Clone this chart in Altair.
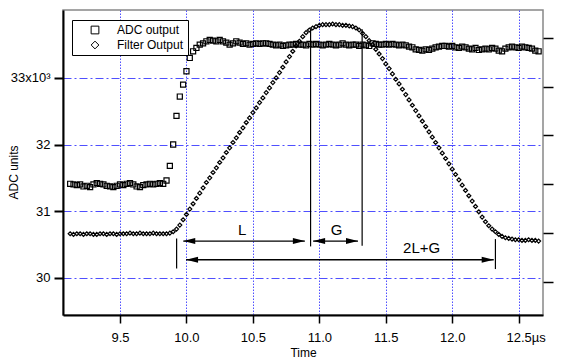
import altair as alt
import pandas as pd

# sample grid (ADC sampling)
T0 = 9.125
DT = 0.025

adc_output = [
    31.41, 31.40, 31.39, 31.40, 31.37, 31.38, 31.36, 31.40, 31.42, 31.41,
    31.40, 31.38, 31.37, 31.36, 31.38, 31.40, 31.39, 31.41, 31.42, 31.40,
    31.37, 31.36, 31.39, 31.40, 31.41, 31.40, 31.41, 31.42, 31.41, 31.46,
    31.68, 32.00, 32.43, 32.72, 32.90, 33.10, 33.30, 33.40, 33.45, 33.50,
    33.52, 33.55, 33.57, 33.56, 33.55, 33.57, 33.55, 33.53, 33.50, 33.52,
    33.55, 33.53, 33.51, 33.52, 33.50, 33.51, 33.52, 33.51, 33.52, 33.52,
    33.51, 33.50, 33.49, 33.50, 33.48, 33.49, 33.50, 33.50, 33.51, 33.50,
    33.50, 33.49, 33.51, 33.50, 33.51, 33.50, 33.49, 33.50, 33.51, 33.50,
    33.49, 33.50, 33.52, 33.50, 33.49, 33.50, 33.50, 33.48, 33.50, 33.49,
    33.48, 33.52, 33.51, 33.50, 33.50, 33.51, 33.50, 33.51, 33.50, 33.49,
    33.50, 33.49, 33.47, 33.46, 33.43, 33.42, 33.41, 33.43, 33.42, 33.44,
    33.46, 33.47, 33.48, 33.48, 33.47, 33.48, 33.46, 33.45, 33.47, 33.46,
    33.44, 33.43, 33.45, 33.42, 33.43, 33.44, 33.43, 33.45, 33.44, 33.41,
    33.40, 33.44, 33.46, 33.47, 33.46, 33.45, 33.47, 33.46, 33.45, 33.44,
    33.41, 33.40,
]

filter_output = [
    30.66, 30.65, 30.66, 30.66, 30.65, 30.66, 30.66, 30.65, 30.65, 30.66,
    30.66, 30.65, 30.66, 30.66, 30.65, 30.66, 30.66, 30.66, 30.67, 30.66,
    30.66, 30.67, 30.66, 30.66, 30.66, 30.67, 30.66, 30.66, 30.66, 30.66,
    30.67, 30.69, 30.73, 30.79, 30.87, 30.95, 31.03, 31.11, 31.19, 31.27,
    31.35, 31.43, 31.50, 31.58, 31.65, 31.73, 31.80, 31.88, 31.95, 32.03,
    32.10, 32.18, 32.25, 32.33, 32.40, 32.48, 32.55, 32.63, 32.70, 32.78,
    32.85, 32.93, 33.00, 33.08, 33.16, 33.24, 33.32, 33.40, 33.48, 33.55,
    33.62, 33.68, 33.72, 33.75, 33.77, 33.79, 33.80, 33.80, 33.80, 33.81,
    33.80, 33.80, 33.79, 33.79, 33.78, 33.77, 33.75, 33.72, 33.67, 33.62,
    33.56, 33.50, 33.43, 33.36, 33.29, 33.21, 33.14, 33.06, 32.98, 32.91,
    32.83, 32.75, 32.67, 32.59, 32.51, 32.43, 32.35, 32.27, 32.19, 32.11,
    32.03, 31.95, 31.87, 31.79, 31.71, 31.63, 31.55, 31.47, 31.39, 31.31,
    31.23, 31.15, 31.07, 30.99, 30.91, 30.84, 30.78, 30.73, 30.69, 30.65,
    30.62, 30.60, 30.59, 30.58, 30.57, 30.57, 30.56, 30.56, 30.57, 30.56,
    30.56, 30.55,
]

series_names = ["ADC output", "Filter Output"]
x_ticks = [9.5, 10.0, 10.5, 11.0, 11.5, 12.0, 12.5]
y_ticks = [30, 31, 32, 33]
right_ticks = [29.94, 30.672, 31.404, 32.137, 32.869, 33.601]

# annotation: arrows (L, G, 2L+G)
arrow_x_start = [9.976, 10.953, 9.997]
arrow_x_end = [10.891, 11.291, 12.312]
arrow_y = [30.55, 30.55, 30.27]
# vertical markers
vline_x = [9.926, 10.934, 11.322, 12.325]
vline_y_top = [30.59, 33.73, 33.73, 30.58]
vline_y_bottom = [30.14, 30.47, 30.48, 30.13]
# labels
label_text = ["L", "G", "2L+G"]
label_x = [10.42, 11.13, 11.77]
label_y = [30.72, 30.72, 30.44]

n = len(adc_output)
times = [round(T0 + DT * i, 4) for i in range(n)]

df = pd.DataFrame({
    "t": times + times,
    "v": adc_output + filter_output,
    "series": [series_names[0]] * n + [series_names[1]] * n,
})
arrows = pd.DataFrame({"x1": arrow_x_start, "x2": arrow_x_end, "y": arrow_y})
vlines = pd.DataFrame({"x": vline_x, "y1": vline_y_top, "y2": vline_y_bottom})
labels = pd.DataFrame({"x": label_x, "y": label_y, "text": label_text})

FONT = "Liberation Sans"
GRID = "#4f4fff"
xscale = alt.Scale(domain=[9.071, 12.683], nice=False, zero=False)
yscale = alt.Scale(domain=[29.44, 34.02], nice=False, zero=False)

xaxis = alt.Axis(
    values=x_ticks,
    labelExpr="datum.value == 12.5 ? '12.5\u00b5s' : format(datum.value, '.1f')",
    labelOffset={"condition": {"test": "datum.value == 12.5", "value": 7}, "value": 0},
    tickSize=8, tickWidth=1.5, tickColor="black",
    domainColor="black", domainWidth=2,
    grid=True, gridColor=GRID, gridDash=[1.5, 1.5], gridWidth=1,
    labelFont=FONT, labelFontSize=13, labelColor="black",
    labelBaseline="alphabetic", labelPadding=18,
    labelFlush=False, labelOverlap=False,
    title="Time", titleFont=FONT, titleFontSize=12, titleFontWeight="normal",
    titleColor="black", titleBaseline="alphabetic", titleY=41,
)
yaxis = alt.Axis(
    values=y_ticks, orient="left",
    labelExpr="datum.value == 33 ? '33x10\u00b3' : format(datum.value, 'd')",
    tickSize=9, tickWidth=2, tickColor="black",
    domainColor="black", domainWidth=2,
    grid=True, gridColor=GRID, gridDash=[8, 3, 2, 3], gridWidth=1,
    labelFont=FONT, labelFontSize=13, labelColor="black", labelPadding=4,
    labelOverlap=False, labelFlush=False,
    title="ADC units", titleFont=FONT, titleFontSize=12, titleFontWeight="normal",
    titleColor="black", titleX=-50, titleY=162, titleAlign="center",
    titleBaseline="middle", titleAngle=270,
)

legend = alt.Legend(
    title=None, orient="none", legendX=9, legendY=10,
    strokeColor="black", fillColor="white", padding=4,
    labelFont=FONT, labelFontSize=12, labelColor="black",
    symbolSize=60, symbolStrokeColor="black", symbolFillColor="transparent",
    symbolStrokeWidth=1, rowPadding=3, labelOffset=16, symbolOffset=13,
)

points = alt.Chart(df).mark_point(filled=False, color="black", strokeWidth=1.2, opacity=1).encode(
    x=alt.X("t:Q", scale=xscale, axis=xaxis),
    y=alt.Y("v:Q", scale=yscale, axis=yaxis),
    shape=alt.Shape("series:N", scale=alt.Scale(domain=series_names, range=["square", "diamond"]), legend=legend),
    size=alt.condition(alt.datum.series == series_names[0], alt.value(26), alt.value(16)),
)

hrules = alt.Chart(arrows).mark_rule(color="black", strokeWidth=1.3).encode(
    x=alt.X("x1:Q", scale=xscale), x2="x2:Q",
    y=alt.Y("y:Q", scale=yscale, axis=None),
)
vrules = alt.Chart(vlines).mark_rule(color="black", strokeWidth=1.2).encode(
    x=alt.X("x:Q", scale=xscale),
    y=alt.Y("y1:Q", scale=yscale, axis=None), y2="y2:Q",
)
LEFT_HEAD = "M0,0L2,-0.5L2,0.5Z"
RIGHT_HEAD = "M0,0L-2,-0.5L-2,0.5Z"
lheads = alt.Chart(arrows).mark_point(shape=LEFT_HEAD, filled=True, color="black", opacity=1, size=144).encode(
    x=alt.X("x1:Q", scale=xscale),
    y=alt.Y("y:Q", scale=yscale, axis=None),
)
rheads = alt.Chart(arrows).mark_point(shape=RIGHT_HEAD, filled=True, color="black", opacity=1, size=144).encode(
    x=alt.X("x2:Q", scale=xscale),
    y=alt.Y("y:Q", scale=yscale, axis=None),
)
texts = alt.Chart(labels).mark_text(font=FONT, fontSize=15, color="black", align="center", baseline="middle").encode(
    x=alt.X("x:Q", scale=xscale),
    y=alt.Y("y:Q", scale=yscale, axis=None),
    text="text:N",
)
right_axis = alt.Chart(pd.DataFrame({"v": [31.0]})).mark_point(opacity=0).encode(
    y=alt.Y("v:Q", scale=yscale, axis=alt.Axis(
        orient="right", values=right_ticks, labels=False, tickSize=10, tickWidth=1.5,
        tickColor="black", domain=False, grid=False, title=None)),
)

chart = alt.layer(points, hrules, vrules, lheads, rheads, texts, right_axis).resolve_scale(
    y="independent"
).properties(
    width=480, height=305,
    autosize=alt.AutoSizeParams(type="none"),
    padding={"left": 55, "top": 2, "right": 16, "bottom": 45},
    background="white",
).configure_view(stroke="#888888", strokeWidth=1.5)

chart.save("out.html", embed_options={"renderer": "svg", "actions": False})
